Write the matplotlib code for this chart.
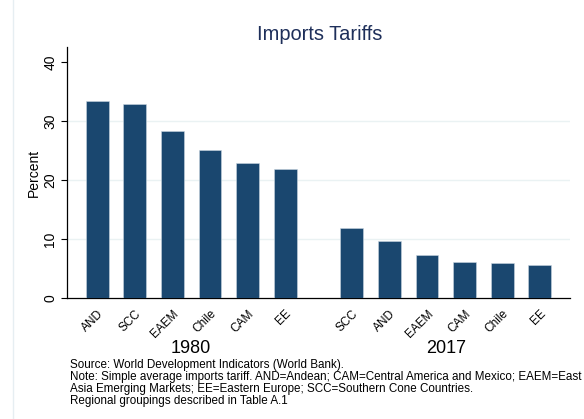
import matplotlib
matplotlib.use("Agg")
import matplotlib.pyplot as plt
from matplotlib.lines import Line2D
import numpy as np

plt.rcParams["font.family"] = ["Liberation Sans", "DejaVu Sans"]

# data
labels_1980 = ["AND", "SCC", "EAEM", "Chile", "CAM", "EE"]
tariff_1980 = [33.4, 32.8, 28.3, 25.1, 22.9, 21.9]
labels_2017 = ["SCC", "AND", "EAEM", "CAM", "Chile", "EE"]
tariff_2017 = [11.9, 9.7, 7.3, 6.1, 6.0, 5.6]
groups = ["1980", "2017"]
yticks = [0, 10, 20, 30, 40]

BAR = "#1a476f"
GAP = 6.78  # offset of the second group

x1 = np.arange(len(labels_1980))
x2 = np.arange(len(labels_2017)) + GAP

fig = plt.figure(figsize=(5.84, 4.19), dpi=100)
ax = fig.add_axes([67 / 584, 1 - 298 / 419, (570 - 67) / 584, (298 - 47) / 419])

ax.bar(x1, tariff_1980, width=0.61, color=BAR, edgecolor="#c9d6e0", linewidth=0.4, zorder=3)
ax.bar(x2, tariff_2017, width=0.61, color=BAR, edgecolor="#c9d6e0", linewidth=0.4, zorder=3)

ax.set_xlim(-0.81, x2[-1] + 0.81)
ax.set_ylim(0, 42.5)
ax.set_yticks(yticks)
ax.set_yticklabels([str(t) for t in yticks], rotation=90, va="center", fontsize=10)
for t in yticks[1:4]:
    ax.axhline(t, color="#eaf2f3", linewidth=1, zorder=1)

ax.set_xticks(list(x1) + list(x2))
ax.set_xticklabels(labels_1980 + labels_2017, rotation=45, ha="right",
                   rotation_mode="anchor", fontsize=8.6)
ax.tick_params(axis="x", length=0, pad=7)
ax.tick_params(axis="y", length=4, width=0.8, pad=3)
ax.set_ylabel("Percent", fontsize=10, labelpad=2)

for s in ("top", "right"):
    ax.spines[s].set_visible(False)
ax.spines["left"].set_linewidth(0.9)
ax.spines["bottom"].set_linewidth(0.9)

ax.text(np.mean(x1), -0.2, groups[0], transform=ax.get_xaxis_transform(),
        ha="center", va="center", fontsize=13)
ax.text(np.mean(x2), -0.2, groups[1], transform=ax.get_xaxis_transform(),
        ha="center", va="center", fontsize=13)

fig.text(320 / 584, 1 - 35 / 419, "Imports Tariffs", ha="center", va="center",
         fontsize=14.4, color="#1e2f5a")

note = ("Source: World Development Indicators (World Bank).\n"
        "Note: Simple average imports tariff. AND=Andean; CAM=Central America and Mexico; EAEM=East\n"
        "Asia Emerging Markets; EE=Eastern Europe; SCC=Southern Cone Countries.\n"
        "Regional groupings described in Table A.1")
fig.text(70 / 584, 1 - 358.5 / 419, note, ha="left", va="top", fontsize=8.35,
         linespacing=1.0)

fig.add_artist(Line2D([13 / 584, 13 / 584], [0, 1], color="#e6eef2", linewidth=1))

fig.savefig("out.png", dpi=100)
